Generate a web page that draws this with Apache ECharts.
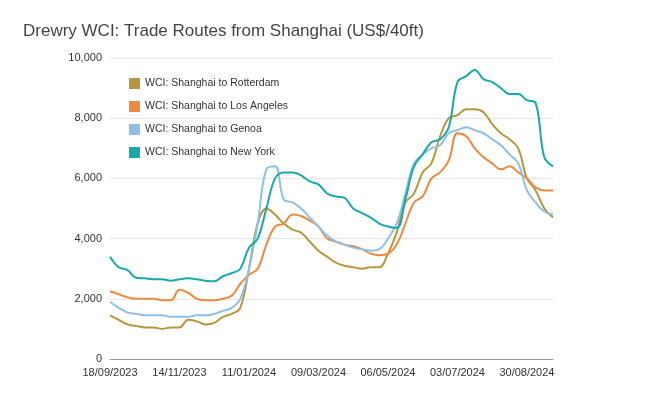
<!DOCTYPE html>
<html><head><meta charset="utf-8">
<script src="https://cdn.jsdelivr.net/npm/echarts@6/dist/echarts.min.js"></script>
<style>html,body{margin:0;padding:0;background:#fff}#c{width:645px;height:401px}</style>
</head><body><div id="c"></div>
<script>
const categories = ["18/09/2023","25/09","02/10","09/10","16/10","23/10","30/10","06/11","14/11/2023","21/11","28/11","05/12","12/12","19/12","26/12","02/01","11/01/2024","18/01","25/01","01/02","08/02","15/02","22/02","29/02","09/03/2024","14/03","21/03","28/03","04/04","11/04","18/04","25/04","06/05/2024","09/05","16/05","23/05","30/05","06/06","13/06","20/06","03/07/2024","04/07","11/07","18/07","25/07","01/08","08/08","15/08","30/08/2024","05/09","12/09","19/09"];
const rotterdam = [1450,1300,1150,1100,1050,1050,1000,1050,1050,1300,1250,1150,1200,1400,1500,1700,3000,4500,5000,4800,4500,4300,4200,3900,3600,3400,3200,3100,3050,3000,3050,3050,3500,4200,5200,5500,6200,6500,7400,8000,8100,8300,8300,8200,7800,7500,7300,7000,6000,5600,5000,4700];
const losAngeles = [2250,2150,2050,2000,2000,2000,1950,1950,2300,2200,2000,1950,1950,2000,2100,2500,2800,3000,3800,4400,4500,4800,4750,4600,4400,4000,3900,3800,3750,3650,3500,3450,3500,3800,4500,5200,5400,6000,6200,6600,7500,7400,7000,6700,6500,6300,6400,6200,6000,5700,5600,5600];
const genoa = [1900,1700,1550,1500,1450,1450,1450,1400,1400,1400,1450,1450,1500,1600,1700,2000,3000,4500,6300,6400,5300,5200,5000,4700,4400,4100,3900,3800,3700,3650,3600,3650,4000,4500,5500,6500,6800,7000,7100,7500,7600,7700,7600,7500,7300,7100,6800,6500,5600,5200,4900,4800];
const newYork = [3400,3050,2950,2700,2680,2650,2650,2600,2650,2680,2650,2600,2580,2750,2850,3000,3700,4000,5000,6000,6200,6200,6100,5900,5800,5500,5400,5350,5000,4850,4700,4500,4400,4350,5300,6400,6800,7200,7300,7700,9200,9400,9600,9300,9200,9000,8800,8800,8600,8500,6700,6400];
const labelIdx = [0,8,16,24,32,40,48];
const chart = echarts.init(document.getElementById('c'));
const mk = (name, data, color) => ({name, type:'line', data, smooth:0.4, symbol:'none', lineStyle:{width:2, color}, itemStyle:{color}});
chart.setOption({
  animation:false,
  title:{text:'Drewry WCI: Trade Routes from Shanghai (US$/40ft)', left:18, top:18, textStyle:{fontFamily:'Arial, Liberation Sans', fontSize:17, fontWeight:'normal', color:'#444'}},
  legend:{orient:'vertical', left:124, top:73, itemGap:12, itemWidth:11, itemHeight:11, icon:'rect', textStyle:{fontSize:10.5, color:'#333'}},
  grid:{left:110, right:92, top:58, bottom:42},
  xAxis:{type:'category', data:categories, boundaryGap:false,
    axisLine:{lineStyle:{color:'#999'}}, axisTick:{show:false},
    axisLabel:{interval:(i)=>labelIdx.includes(i), color:'#333', fontSize:11, formatter:(v,i)=>labelIdx.includes(i)?v:''}},
  yAxis:{type:'value', min:0, max:10000, interval:2000, axisLine:{show:false}, axisTick:{show:false},
    axisLabel:{color:'#333', fontSize:11, formatter:(v)=>v.toLocaleString('en-US')},
    splitLine:{lineStyle:{color:'#e6e6e6'}}},
  series:[
    mk('WCI: Shanghai to Rotterdam', rotterdam, '#b8963b'),
    mk('WCI: Shanghai to Los Angeles', losAngeles, '#ee8a3e'),
    mk('WCI: Shanghai to Genoa', genoa, '#8ec0e6'),
    mk('WCI: Shanghai to New York', newYork, '#19a8ac')
  ]
});
</script></body></html>
